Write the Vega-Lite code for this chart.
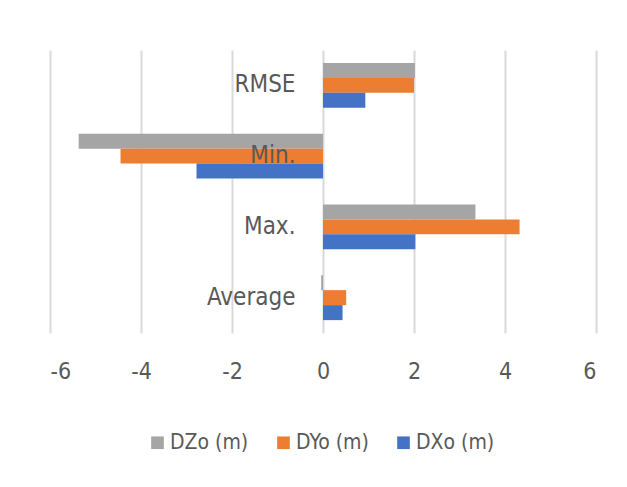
{
  "$schema": "https://vega.github.io/schema/vega-lite/v6.json",
  "autosize": "none",
  "width": 546,
  "height": 283,
  "padding": {"left": 50, "top": 50, "right": 31, "bottom": 154},
  "background": "white",
  "config": {
    "view": {"stroke": null},
    "font": "Liberation Sans Narrow, DejaVu Sans Condensed, sans-serif"
  },
  "data": {
    "values": [
      {"stat": "RMSE", "series": "DZo (m)", "value": 2.02},
      {"stat": "RMSE", "series": "DYo (m)", "value": 2.0},
      {"stat": "RMSE", "series": "DXo (m)", "value": 0.93},
      {"stat": "Min.", "series": "DZo (m)", "value": -5.37},
      {"stat": "Min.", "series": "DYo (m)", "value": -4.45},
      {"stat": "Min.", "series": "DXo (m)", "value": -2.78},
      {"stat": "Max.", "series": "DZo (m)", "value": 3.35},
      {"stat": "Max.", "series": "DYo (m)", "value": 4.32},
      {"stat": "Max.", "series": "DXo (m)", "value": 2.03},
      {"stat": "Average", "series": "DZo (m)", "value": -0.04},
      {"stat": "Average", "series": "DYo (m)", "value": 0.51},
      {"stat": "Average", "series": "DXo (m)", "value": 0.43}
    ]
  },
  "mark": {"type": "bar"},
  "encoding": {
    "y": {
      "field": "stat",
      "type": "nominal",
      "sort": ["RMSE", "Min.", "Max.", "Average"],
      "scale": {"paddingInner": 0.364, "paddingOuter": 0.182},
      "axis": {
        "title": null,
        "offset": -272,
        "domain": false,
        "ticks": false,
        "labelPadding": 27,
        "labelFontSize": 24,
        "labelColor": "#595959",
        "zindex": 1
      }
    },
    "yOffset": {
      "field": "series",
      "type": "nominal",
      "sort": ["DZo (m)", "DYo (m)", "DXo (m)"],
      "scale": {"paddingInner": 0, "paddingOuter": 0}
    },
    "x": {
      "field": "value",
      "type": "quantitative",
      "scale": {"domain": [-6, 6], "nice": false, "zero": false},
      "axis": {
        "title": null,
        "values": [-6, -4, -2, 0, 2, 4, 6],
        "labelExpr": "replace(datum.label, '\u2212', '-')",
        "domain": false,
        "ticks": false,
        "grid": true,
        "gridColor": "#d9d9d9",
        "gridWidth": 2,
        "labelPadding": 27,
        "labelFontSize": 23,
        "labelColor": "#595959",
        "zindex": 0
      }
    },
    "color": {
      "field": "series",
      "type": "nominal",
      "sort": ["DZo (m)", "DYo (m)", "DXo (m)"],
      "scale": {
        "domain": ["DZo (m)", "DYo (m)", "DXo (m)"],
        "range": ["#a5a5a5", "#ed7d31", "#4472c4"]
      },
      "legend": {
        "title": null,
        "orient": "none",
        "legendX": 97,
        "legendY": 382,
        "direction": "horizontal",
        "symbolType": "square",
        "symbolSize": 160,
        "symbolStrokeWidth": 0,
        "labelFontSize": 21,
        "labelColor": "#595959",
        "columnPadding": 24,
        "labelOffset": 2
      }
    }
  }
}
